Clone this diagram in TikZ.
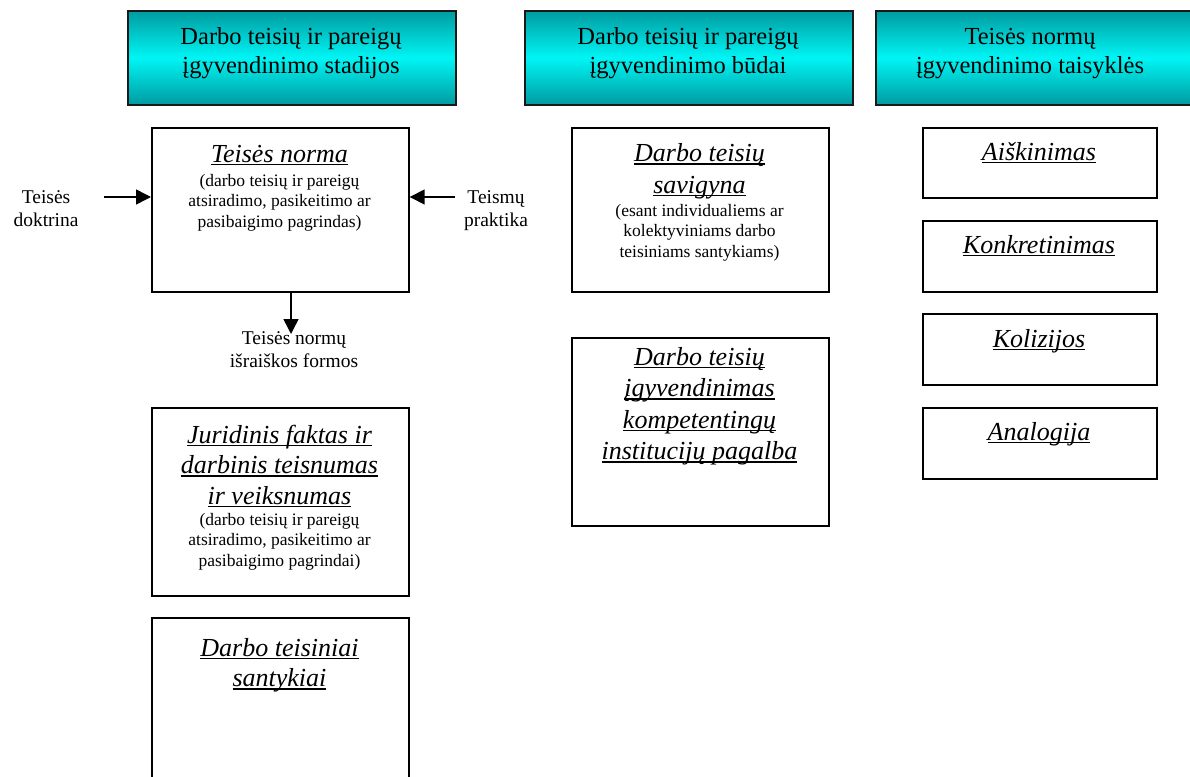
\documentclass[tikz,border=0pt]{standalone}
\usepackage{fontspec}
\setmainfont{Liberation Serif}
\usetikzlibrary{arrows.meta}
\newcommand\myul[1]{\setbox0=\hbox{#1}\rlap{\rule[-3.2pt]{\wd0}{1.5pt}}\box0}
\definecolor{tealdark}{RGB}{0,155,160}
\definecolor{cyanbright}{RGB}{0,245,245}
\begin{document}
\begin{tikzpicture}[x=1pt,y=-1pt,
  hbox/.style={draw=black!90, line width=1.6pt, top color=tealdark, bottom color=tealdark, middle color=cyanbright, inner sep=0, anchor=north west},
  wbox/.style={draw=black, line width=1.7pt, fill=white, inner sep=0, anchor=north west},
  htext/.style={font=\fontsize{24.5}{29}\selectfont, align=center, anchor=base, inner sep=0},
  ttl/.style={font=\fontsize{26}{30.5}\selectfont\itshape, align=center, anchor=base, inner sep=0},
  ttlw/.style={ttl, font=\fontsize{26}{31.5}\selectfont\itshape},
  sub/.style={font=\fontsize{17.5}{20.5}\selectfont, align=center, anchor=base, inner sep=0},
  lbl/.style={font=\fontsize{19.5}{23.5}\selectfont, align=center, anchor=base, inner sep=0},
  arr/.style={line width=1.5pt, -{Triangle[length=15pt,width=15pt]}}
]
\useasboundingbox (0,0) rectangle (1190,776);

% headers (base anchor = baseline of the last line)
\node[hbox, minimum width=328pt, minimum height=94pt] (h1) at (127,10) {};
\node[hbox, minimum width=328pt, minimum height=94pt] (h2) at (524,10) {};
\node[hbox, minimum width=330pt, minimum height=94pt] (h3) at (875,10) {};
\node[htext] (h1t) at (291,73.5) {Darbo teisių ir pareigų\\įgyvendinimo stadijos};
\node[htext] (h2t) at (688,73.5) {Darbo teisių ir pareigų\\įgyvendinimo būdai};
\node[htext] (h3t) at (1030,73.5) {Teisės normų\\įgyvendinimo taisyklės};

% left column
\node[wbox, minimum width=257pt, minimum height=164pt] (n1) at (151,127) {};
\node[wbox, minimum width=257pt, minimum height=188pt] (n2) at (151,407) {};
\node[wbox, minimum width=257pt, minimum height=185pt] (n3) at (151,617) {};
\node[ttl] (n1t) at (279.5,162) {\myul{Teisės norma}};
\node[sub] (n1s) at (279.5,227) {(darbo teisių ir pareigų\\atsiradimo, pasikeitimo ar\\pasibaigimo pagrindas)};
\node[ttl] (n2t) at (279.5,504) {\myul{Juridinis faktas ir}\\\myul{darbinis teisnumas}\\\myul{ir veiksnumas}};
\node[sub] (n2s) at (279.5,566) {(darbo teisių ir pareigų\\atsiradimo, pasikeitimo ar\\pasibaigimo pagrindai)};
\node[ttl] (n3t) at (279.5,686.5) {\myul{Darbo teisiniai}\\\myul{santykiai}};

% side labels and arrows
\node[lbl] (ld) at (46,226.5) {Teisės\\doktrina};
\node[lbl] (lp) at (496,226.5) {Teismų\\praktika};
\coordinate (dl) at (104,197);
\coordinate (dr) at (455,197);
\coordinate (dd) at (291,334);
\draw[arr] (dl) -- (dl -| n1.west);
\draw[arr] (dr) -- (dr -| n1.east);
\draw[arr] (dd |- n1.south) -- (dd);
\node[lbl] (lf) at (294,367.5) {Teisės normų\\išraiškos formos};

% middle column
\node[wbox, minimum width=257pt, minimum height=164pt] (m1) at (571,127) {};
\node[wbox, minimum width=257pt, minimum height=188pt] (m2) at (571,337) {};
\node[ttlw] (m1t) at (699.5,193) {\myul{Darbo teisių}\\\myul{savigyna}};
\node[sub] (m1s) at (699.5,257) {(esant individualiems ar\\kolektyviniams darbo\\teisiniams santykiams)};
\node[ttlw] (m2t) at (699.5,459.5) {\myul{Darbo teisių}\\\myul{įgyvendinimas}\\\myul{kompetentingų}\\\myul{institucijų pagalba}};

% right column
\node[wbox, minimum width=234pt, minimum height=70pt] (r1) at (922,127) {};
\node[wbox, minimum width=234pt, minimum height=71pt] (r2) at (922,220) {};
\node[wbox, minimum width=234pt, minimum height=71pt] (r3) at (922,313) {};
\node[wbox, minimum width=234pt, minimum height=71pt] (r4) at (922,407) {};
\node[ttl] (r1t) at (1039,160) {\myul{Aiškinimas}};
\node[ttl] (r2t) at (1039,253) {\myul{Konkretinimas}};
\node[ttl] (r3t) at (1039,347) {\myul{Kolizijos}};
\node[ttl] (r4t) at (1039,440) {\myul{Analogija}};
\end{tikzpicture}
\end{document}
